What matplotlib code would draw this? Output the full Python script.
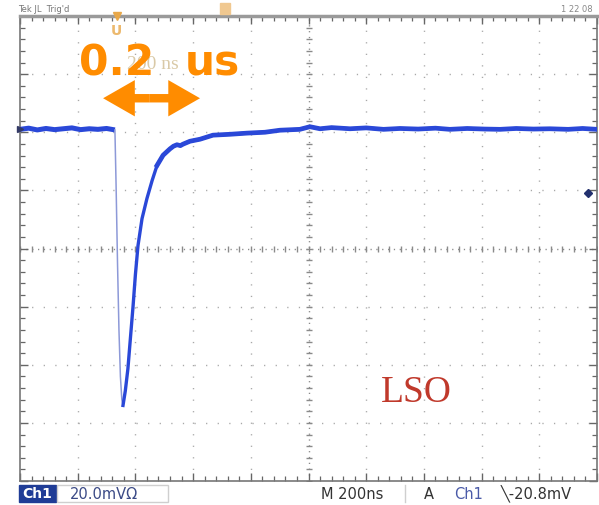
import matplotlib
matplotlib.use("Agg")
import matplotlib.pyplot as plt
from matplotlib.patches import FancyArrow, Rectangle
import numpy as np

# ---------------- data (time in ns, voltage in mV) ----------------
pre_t = [0, 30, 60, 90, 120, 150, 180, 210, 240, 270, 300, 329]
pre_v = [41.0, 41.4, 40.8, 41.3, 40.9, 41.2, 41.5, 40.9, 41.2, 41.0, 41.3, 40.8]

fall_t = [329, 333, 338, 343, 348, 353, 357]
fall_v = [40.8, 22.0, -5.0, -28.0, -44.0, -52.0, -54.0]

decay_t = [357, 365, 374, 383, 392, 400, 409, 423, 440, 458, 475, 496, 520, 532,
           544, 556, 565, 589, 624, 669, 728, 787, 849, 901, 970, 1005, 1040,
           1080, 1144, 1200, 1260, 1317, 1380, 1440, 1490, 1550, 1610, 1664,
           1720, 1780, 1837, 1900, 1950, 2000]
decay_v = [-54.0, -49.0, -41.4, -30.5, -19.7, -9.0, 1.0, 10.3, 17.2, 23.4, 28.6,
           32.1, 34.3, 35.2, 35.7, 35.4, 35.9, 36.9, 37.6, 39.0, 39.3, 39.7,
           40.0, 40.7, 41.0, 41.9, 41.2, 41.6, 41.2, 41.5, 41.0, 41.3, 41.1,
           41.4, 41.0, 41.3, 41.1, 41.0, 41.3, 41.1, 41.2, 41.0, 41.3, 41.0]

trig_level_mv = 19.0
ground_mv = 41.0

time_per_div = 200   # ns / div
volt_per_div = 20    # mV / div
n_hdiv, n_vdiv = 10, 8

arrow_left, arrow_right, arrow_mid, arrow_y = 288, 624, 450, 51.7

# ---------------- figure ----------------
W, H = 599, 506
fig = plt.figure(figsize=(W / 100, H / 100), dpi=100)
ax = fig.add_axes([20 / W, 1 - 482 / H, 577 / W, 465 / H])
xmax = time_per_div * n_hdiv
ymax = volt_per_div * n_vdiv / 2
ax.set_xlim(0, xmax)
ax.set_ylim(-ymax, ymax)

grid_c = "#a8a8a8"
for i in range(1, n_hdiv):
    if i == n_hdiv // 2:
        continue
    ax.axvline(i * time_per_div, color=grid_c, lw=1.0, ls=(0, (0.9, 7.4)), zorder=1)
for j in range(1, n_vdiv):
    if j == n_vdiv // 2:
        continue
    ax.axhline(-ymax + j * volt_per_div, color=grid_c, lw=1.0, ls=(0, (0.9, 7.45)), zorder=1)

# centre cross with minor ticks
ax.axvline(xmax / 2, color="#8a8a8a", lw=1.0, ls=(0, (0.9, 3.3)), zorder=1)
ax.axhline(0, color="#8a8a8a", lw=1.0, ls=(0, (0.9, 3.3)), zorder=1)
mx = np.arange(0, xmax + 1, time_per_div / 5)
my = np.arange(-ymax, ymax + 0.01, volt_per_div / 5)
ax.plot(mx, np.zeros_like(mx), ls="none", marker="|", ms=5, mew=1.0, color="#8a8a8a", zorder=1)
ax.plot(np.full_like(my, xmax / 2), my, ls="none", marker="_", ms=5, mew=1.0, color="#8a8a8a", zorder=1)

# frame ticks
ax.set_xticks(np.arange(0, xmax + 1, time_per_div))
ax.set_xticks(mx, minor=True)
ax.set_yticks(np.arange(-ymax, ymax + 0.01, volt_per_div))
ax.set_yticks(my, minor=True)
ax.tick_params(which="both", direction="in", top=True, right=True,
               labelbottom=False, labelleft=False, color="#666666")
ax.tick_params(which="major", length=6, width=1.0)
ax.tick_params(which="minor", length=3.5, width=0.9)
for s in ax.spines.values():
    s.set_color("#777777")
    s.set_linewidth(1.2)
ax.spines["top"].set_linewidth(2.5)
ax.spines["top"].set_color("#9a9a9a")

# ---------------- trace ----------------
trace_c = "#2a48d8"
ax.plot(pre_t, pre_v, color=trace_c, lw=3.6, solid_capstyle="butt", zorder=4)
ax.plot(fall_t, fall_v, color="#8d99d8", lw=1.1, zorder=4)
ax.plot(decay_t, decay_v, color=trace_c, lw=2.4, solid_joinstyle="round", zorder=4)
tail = slice(decay_v.index(28.6), None)
ax.plot(decay_t[tail], decay_v[tail], color=trace_c, lw=3.4,
        solid_joinstyle="round", zorder=4)

# markers: ground level and trigger level
ax.plot([0], [ground_mv], marker=">", ms=5, color="#333a66", clip_on=False, zorder=5)
ax.plot([xmax * 0.985], [trig_level_mv], marker="D", ms=4, color="#22306e", zorder=5)

# ---------------- annotations ----------------
ax.text(461, 63.5, "200 ns", family="Liberation Serif", fontsize=14,
        color="#cdb88a", alpha=0.75, ha="center", va="center", zorder=5)
orange = "#ff8c00"
ax.text(205, 59.7, "0.2", family="DejaVu Sans", weight="bold", fontsize=30.5,
        color=orange, ha="left", va="baseline", zorder=6)
ax.text(570, 59.7, "us", family="DejaVu Sans", weight="bold", fontsize=30.5,
        color=orange, ha="left", va="baseline", zorder=6)
for end in (arrow_left, arrow_right):
    ax.add_patch(FancyArrow(arrow_mid, arrow_y, end - arrow_mid, 0, width=2.9,
                            head_width=12.5, head_length=110,
                            length_includes_head=True, color=orange, lw=0, zorder=6))

ax.text(1250, -52.5, "LSO", family="Liberation Serif", fontsize=27,
        color="#c0392b", ha="left", va="baseline", zorder=5)

# trigger position marker on screen
ax.text(335, 75.3, "U", family="DejaVu Sans", weight="bold", fontsize=10,
        color="#e8a84a", ha="center", va="center", alpha=0.8, zorder=5)
ax.plot([335], [ymax], marker="v", ms=6, color="#e8a84a", clip_on=False, zorder=5)

# ---------------- header / status bar ----------------
fig.text(18 / W, 1 - 10 / H, "Tek JL  Trig'd", fontsize=6, color="#777777",
         va="center", ha="left")
fig.text(593 / W, 1 - 10 / H, "1 22 08", fontsize=6, color="#888888",
         va="center", ha="right")
fig.patches.append(Rectangle((220 / W, 1 - 15 / H), 10 / W, 11 / H,
                             transform=fig.transFigure, color="#f0c890", zorder=3))

yb = 1 - 494.5 / H
fig.patches.append(Rectangle((19 / W, 1 - 503 / H), 37 / W, 17 / H,
                             transform=fig.transFigure, color="#1f3c96", zorder=2))
fig.patches.append(Rectangle((57 / W, 1 - 503 / H), 111 / W, 17 / H,
                             transform=fig.transFigure, fill=False,
                             ec="#cfcfcf", lw=1.0, zorder=2))
fig.text(37.5 / W, yb, "Ch1", fontsize=10, weight="bold", color="white",
         ha="center", va="center", zorder=4)
fig.text(70 / W, yb, "20.0mVΩ", fontsize=10.5, color="#3b4a86",
         ha="left", va="center")
fig.text(321 / W, yb, "M 200ns", fontsize=10.5, color="#333333",
         ha="left", va="center")
fig.text(424 / W, yb, "A", fontsize=10.5, color="#333333", ha="left", va="center")
fig.text(454 / W, yb, "Ch1", fontsize=10.5, color="#4a5aa8", ha="left", va="center")
fig.text(501 / W, yb, "╲-20.8mV", fontsize=10.5, color="#333333",
         ha="left", va="center")
fig.lines.append(plt.Line2D([405 / W, 405 / W], [1 - 503 / H, 1 - 486 / H],
                            transform=fig.transFigure, color="#cfcfcf", lw=1))

fig.savefig("out.png", dpi=100, facecolor="white")
